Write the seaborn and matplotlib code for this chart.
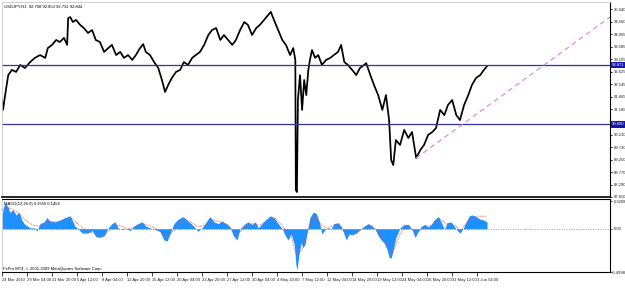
import matplotlib
matplotlib.use("Agg")
import matplotlib.pyplot as plt
import seaborn as sns
import pandas as pd

sns.set_theme(style="white")
plt.rcParams['font.family'] = ['Liberation Sans', 'DejaVu Sans']

# ---------------- data ----------------
price_bars = [0, 2, 6, 12, 19, 27, 35, 44, 54, 63, 73, 83, 88, 96, 104, 111, 119, 125, 127, 131,
              136, 142, 150, 157, 165, 173, 180, 188, 196, 204, 211, 219, 227, 234, 242, 250, 257,
              265, 271, 276, 284, 292, 300, 307, 313, 319, 326, 334, 342, 349, 357, 365, 372, 380,
              388, 396, 403, 411, 419, 426, 434, 442, 449, 457, 465, 472, 480, 488, 495, 503, 511,
              516, 522, 530, 538, 545, 553, 559, 563, 564, 566, 568, 572, 576, 580, 584, 588, 591,
              595, 601, 607, 614, 622, 630, 637, 645, 651, 657, 664, 672, 680, 687, 695, 699, 707,
              714, 722, 730, 737, 743, 747, 751, 756, 764, 772, 780, 787, 795, 803, 810, 818, 826,
              833, 841, 849, 856, 864, 872, 879, 887, 895, 902, 910, 918, 925, 931]
price_close = [91.54, 91.16, 91.73, 92.50, 92.70, 92.62, 92.89, 92.77, 93.00, 93.16, 93.27, 93.16,
               93.54, 93.66, 93.85, 93.77, 93.93, 93.66, 94.69, 94.73, 94.54, 94.62, 94.43, 94.31,
               94.12, 94.23, 93.85, 93.77, 93.39, 93.54, 93.66, 93.27, 93.39, 93.16, 93.27, 93.08,
               93.27, 93.54, 93.69, 93.39, 93.27, 93.00, 92.77, 92.31, 91.85, 92.12, 92.39, 92.62,
               92.70, 93.00, 92.89, 93.16, 93.27, 93.39, 93.66, 94.04, 94.23, 94.31, 93.85, 94.04,
               93.85, 93.66, 93.85, 94.23, 94.54, 94.43, 94.04, 94.31, 94.43, 94.62, 94.81, 94.93,
               94.62, 94.23, 93.85, 93.66, 93.27, 93.54, 93.08, 88.08, 88.00, 91.54, 92.50, 91.16,
               92.31, 91.73, 92.70, 93.08, 93.46, 93.16, 93.27, 92.89, 93.08, 93.16, 93.27, 93.39,
               93.66, 93.00, 92.89, 92.70, 92.50, 92.77, 92.89, 92.96, 92.50, 92.12, 91.73, 91.16,
               91.73, 90.77, 89.23, 89.04, 90.00, 89.81, 90.39, 90.08, 90.31, 89.31, 89.62, 89.81,
               90.20, 90.31, 90.46, 91.16, 90.96, 91.35, 91.54, 90.96, 90.77, 91.35, 91.73, 92.12,
               92.39, 92.50, 92.70, 92.84]

macd_bars = [0, 3, 6, 12, 15, 21, 27, 33, 38, 44, 54, 63, 67, 73, 81, 86, 92, 102, 111, 121, 131,
             140, 146, 154, 165, 173, 180, 188, 196, 204, 211, 217, 223, 230, 238, 246, 253, 261,
             269, 276, 284, 294, 303, 311, 317, 323, 330, 338, 348, 355, 363, 371, 376, 384, 392,
             399, 407, 415, 422, 430, 438, 444, 451, 457, 465, 472, 480, 486, 492, 499, 507, 515,
             522, 530, 538, 543, 549, 555, 561, 564, 566, 570, 574, 578, 582, 586, 591, 597, 603,
             609, 614, 620, 626, 632, 637, 645, 651, 657, 661, 666, 672, 680, 687, 695, 703, 710,
             716, 722, 728, 733, 739, 743, 747, 751, 756, 764, 772, 780, 787, 793, 799, 805, 812,
             818, 824, 829, 837, 843, 849, 854, 862, 868, 874, 879, 885, 891, 897, 902, 910, 918,
             925, 931]
macd_vals = [0.15, 0.25, 0.30, 0.25, 0.19, 0.22, 0.16, 0.19, 0.10, 0.05, 0.01, 0.01, -0.03, 0.06,
             0.08, 0.13, 0.09, 0.08, 0.10, 0.13, 0.15, 0.03, 0.00, -0.05, -0.05, -0.02, -0.09,
             -0.10, -0.08, 0.01, 0.06, 0.08, 0.01, -0.01, 0.00, -0.02, 0.03, 0.06, 0.08, 0.03,
             0.01, -0.01, -0.03, -0.13, -0.14, -0.05, 0.06, 0.11, 0.14, 0.10, 0.06, 0.01, -0.03,
             0.01, 0.08, 0.14, 0.08, 0.06, 0.09, 0.06, 0.02, -0.08, -0.13, 0.00, 0.05, 0.08, 0.05,
             0.08, 0.01, 0.06, 0.11, 0.15, 0.13, 0.06, 0.00, -0.07, -0.13, -0.06, -0.18, -0.41,
             -0.48, -0.30, -0.16, -0.22, -0.17, -0.03, 0.13, 0.19, 0.18, 0.08, -0.06, -0.01, 0.01,
             0.00, 0.06, 0.07, 0.03, -0.07, -0.13, -0.06, -0.07, -0.05, -0.01, 0.03, 0.06, 0.03,
             0.00, -0.08, -0.13, -0.16, -0.24, -0.33, -0.34, -0.24, -0.10, 0.01, 0.05, 0.05, -0.01,
             -0.10, -0.03, 0.03, 0.05, 0.02, 0.05, 0.10, 0.14, 0.08, -0.01, 0.07, 0.08, 0.03,
             -0.02, -0.05, 0.00, 0.08, 0.15, 0.16, 0.14, 0.11, 0.10, 0.08]

signal_bars = [0, 15, 30, 45, 60, 75, 90, 105, 120, 135, 150, 165, 180, 195, 210, 225, 240, 255,
               270, 285, 300, 315, 330, 345, 360, 375, 390, 405, 420, 435, 450, 465, 480, 495, 510,
               525, 540, 555, 565, 575, 590, 600, 612, 625, 640, 655, 665, 680, 695, 710, 725, 740,
               750, 765, 780, 795, 810, 825, 840, 855, 870, 880, 895, 910, 931]
signal_vals = [0.22, 0.24, 0.19, 0.10, 0.04, 0.03, 0.08, 0.08, 0.10, 0.12, 0.03, -0.03, -0.06,
               -0.08, 0.00, 0.04, 0.00, 0.02, 0.06, 0.03, -0.01, -0.10, -0.02, 0.10, 0.09, 0.02,
               0.04, 0.10, 0.08, 0.04, -0.08, 0.02, 0.06, 0.04, 0.10, 0.12, 0.02, -0.08, -0.30,
               -0.25, 0.02, 0.15, 0.05, 0.00, 0.05, -0.02, -0.08, -0.05, 0.01, 0.04, -0.06, -0.20,
               -0.28, -0.05, 0.04, -0.06, 0.02, 0.04, 0.12, 0.04, 0.04, -0.03, 0.10, 0.145, 0.145]

price_ticks = [95.040, 94.560, 94.065, 93.585, 93.105, 92.625, 92.145, 91.665, 91.185, 90.690,
               90.210, 89.730, 89.250, 88.770, 88.290, 87.810]
hline_levels = [92.871, 90.600]
trend_bars = [795, 1167]
trend_prices = [89.31, 94.73]
time_labels = ["24 Mar 2010", "29 Mar 04:00", "31 Mar 20:00", "5 Apr 12:00", "8 Apr 04:00",
               "12 Apr 20:00", "15 Apr 12:00", "20 Apr 04:00", "22 Apr 20:00", "27 Apr 12:00",
               "30 Apr 04:00", "4 May 20:00", "7 May 12:00", "12 May 04:00", "14 May 20:00",
               "19 May 12:00", "24 May 04:00", "26 May 20:00", "31 May 12:00", "3 Jun 04:00"]
macd_tick_vals = [0.3208, 0.0, -0.4998]
macd_tick_text = ["0.3208", "0.00", "-0.4998"]

# ---------------- figure ----------------
W, H = 625, 292
fig = plt.figure(figsize=(W / 100, H / 100), dpi=100)
fig.patch.set_facecolor("white")

def fx(px):
    return px / W

def fy(py):
    return 1 - py / H

left, right = 2, 610
ax = fig.add_axes([fx(left), fy(197), fx(right - left), fy(2) - fy(197)])
axm = fig.add_axes([fx(left), fy(272), fx(right - left), fy(199) - fy(272)])

XMAX = 1167
FS = 3.0

# main price panel
df_p = pd.DataFrame({"bar": price_bars, "close": price_close})
sns.lineplot(data=df_p, x="bar", y="close", ax=ax, color="black", lw=1.25, sort=False)
for lv in hline_levels:
    ax.axhline(lv, color="#33339a", lw=0.9)
ax.plot(trend_bars, trend_prices, color="#e08ae0", lw=0.9, ls=(0, (4, 3)))
ax.set_xlim(0, XMAX)
ax.set_ylim(87.81, 95.31)
ax.yaxis.tick_right()
ax.set_yticks(price_ticks)
ax.set_yticklabels([f"{v:.3f}" for v in price_ticks], fontsize=FS)
ax.tick_params(axis="y", length=1.5, width=0.6, pad=1, colors="black", labelcolor="#222222")
ax.set_xticks([])
ax.set_xlabel("")
ax.set_ylabel("")
for lv in hline_levels:
    ax.text(1.003, lv, f"{lv:.3f}", transform=ax.get_yaxis_transform(), fontsize=FS,
            color="white", va="center", ha="left", zorder=5,
            bbox=dict(boxstyle="square,pad=0.25", fc="#1515b0", ec="none"))
for s in ["top", "left"]:
    ax.spines[s].set_color("#c8c8c8")
    ax.spines[s].set_linewidth(0.6)
ax.spines["right"].set_color("black")
ax.spines["right"].set_linewidth(0.8)
ax.spines["bottom"].set_color("black")
ax.spines["bottom"].set_linewidth(1.2)
ax.text(0.003, 0.985, "USDJPY,H1  92.708 92.853 92.731 92.844", transform=ax.transAxes,
        fontsize=FS, va="top", ha="left", color="black")

# MACD panel
axm.axhline(0, color="#d08a8a", lw=0.7, ls=(0, (1, 1.5)), zorder=1)
axm.fill_between(macd_bars, 0, macd_vals, color="#1e90ff", lw=0, zorder=2)
df_s = pd.DataFrame({"bar": signal_bars, "sig": signal_vals})
sns.lineplot(data=df_s, x="bar", y="sig", ax=axm, color="#e05050", lw=0.6, ls=(0, (1, 1)),
             sort=False, zorder=3)
axm.set_xlim(0, XMAX)
axm.set_ylim(-0.493, 0.344)
axm.yaxis.tick_right()
axm.set_yticks(macd_tick_vals)
axm.set_yticklabels(macd_tick_text[:2] + [""], fontsize=FS)
axm.text(1.003, -0.493, macd_tick_text[2], transform=axm.get_yaxis_transform(), fontsize=FS,
         color="#222222", va="top", ha="left")
axm.tick_params(axis="y", length=1.5, width=0.6, pad=1, labelcolor="#222222")
axm.set_xticks([48 * i for i in range(len(time_labels))])
axm.set_xticklabels(time_labels, fontsize=FS, ha="left")
axm.tick_params(axis="x", length=3, width=0.6, pad=1.5, bottom=True, labelcolor="#222222")
axm.set_xlabel("")
axm.set_ylabel("")
for s in ["top", "right", "bottom"]:
    axm.spines[s].set_color("black")
    axm.spines[s].set_linewidth(0.8)
axm.spines["left"].set_color("#c8c8c8")
axm.spines["left"].set_linewidth(0.6)
axm.text(0.003, 0.96, "MACD(12,26,9) 0.1556 0.1454", transform=axm.transAxes,
         fontsize=FS, va="top", ha="left", color="black")
axm.text(0.001, 0.02, "FxPro MT4, \u00a9 2001-2009 MetaQuotes Software Corp.",
         transform=axm.transAxes, fontsize=FS, va="bottom", ha="left", color="black")

fig.savefig("out.png", dpi=100)
